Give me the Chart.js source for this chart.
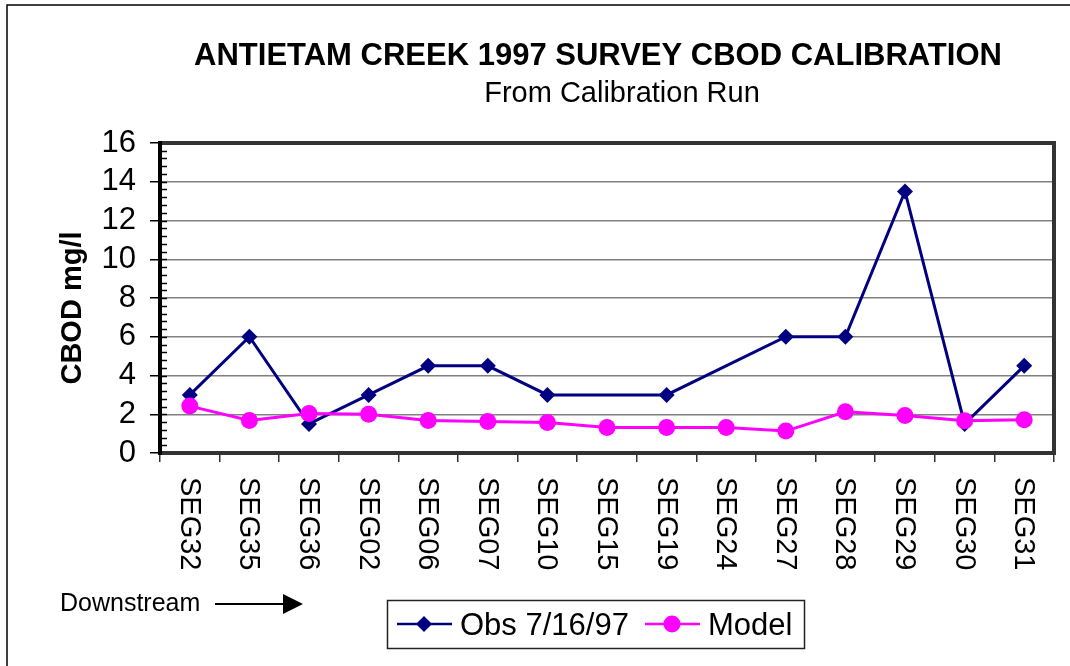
<!DOCTYPE html>
<html>
<head>
<meta charset="utf-8">
<script src="https://cdn.jsdelivr.net/npm/chart.js@4/dist/chart.umd.min.js"></script>
<style>
    body { margin: 0; background: #fff; }
    canvas { display: block; }
</style>
</head>
<body>
<canvas id="chart" width="1070" height="666"></canvas>
<script>
const segments = ['SEG32', 'SEG35', 'SEG36', 'SEG02', 'SEG06', 'SEG07', 'SEG10', 'SEG15',
    'SEG19', 'SEG24', 'SEG27', 'SEG28', 'SEG29', 'SEG30', 'SEG31'];

// observed values, null where there was no sample
const obsValues = [3, 6, 1.5, 3, 4.5, 4.5, 3, null, 3, null, 6, 6, 13.5, 1.5, 4.5];
const modelValues = [2.42, 1.68, 2.04, 2.0, 1.68, 1.62, 1.58, 1.32, 1.32, 1.32, 1.13, 2.13, 1.93, 1.66, 1.72];

const yTicks = [0, 2, 4, 6, 8, 10, 12, 14, 16];

const titleText = 'ANTIETAM CREEK 1997 SURVEY CBOD CALIBRATION';
const subtitleText = 'From Calibration Run';
const yTitleText = 'CBOD mg/l';
const downstreamText = 'Downstream';

const FONT = '"Liberation Sans", Arial, sans-serif';

const NAVY = '#000080';
const MAGENTA = '#FF00FF';

function drawMarker(ctx, style, x, y, r, color) {
    ctx.save();
    ctx.fillStyle = color;
    ctx.beginPath();
    if (style == 'rectRot') {
        ctx.moveTo(x, y - r);
        ctx.lineTo(x + r, y);
        ctx.lineTo(x, y + r);
        ctx.lineTo(x - r, y);
        ctx.closePath();
    } else {
        ctx.arc(x, y, r, 0, Math.PI * 2);
    }
    ctx.fill();
    ctx.restore();
}

// plot frame and little minor ticks on the y axis
const framePlugin = {
    id: 'frame',
    beforeDatasetsDraw(chart) {
        const ctx = chart.ctx;
        const a = chart.chartArea;
        const y = chart.scales.y;
        ctx.save();
        ctx.strokeStyle = '#000';
        ctx.lineWidth = 1.5;
        for (let i = 0; i <= 40; i++) {
            let py = Math.round(y.getPixelForValue(i * 0.4)) + 0.5;
            ctx.beginPath();
            ctx.moveTo(a.left, py);
            ctx.lineTo(a.left + 7, py);
            ctx.stroke();
        }
        ctx.lineWidth = 4;
        ctx.strokeStyle = '#333';
        ctx.beginPath();
        ctx.moveTo(a.left, a.top);
        ctx.lineTo(a.right, a.top);
        ctx.lineTo(a.right, a.bottom);
        ctx.lineTo(a.left, a.bottom);
        ctx.stroke();
        ctx.strokeStyle = '#000';
        ctx.beginPath();
        ctx.moveTo(a.left, a.top - 2);
        ctx.lineTo(a.left, a.bottom + 2);
        ctx.stroke();
        ctx.restore();
    }
};

// texts, rotated category labels and the legend box
const decorPlugin = {
    id: 'decor',
    afterDraw(chart) {
        const ctx = chart.ctx;
        const x = chart.scales.x;
        ctx.save();

        // outer chart border (only top / left are inside the picture)
        ctx.strokeStyle = '#000';
        ctx.lineWidth = 1.5;
        ctx.strokeRect(7, 5, 1100, 700);

        ctx.fillStyle = '#000';
        ctx.textBaseline = 'middle';
        ctx.textAlign = 'center';
        ctx.font = 'bold 31px ' + FONT;
        ctx.fillText(titleText, 598, 56);
        ctx.font = '29px ' + FONT;
        ctx.fillText(subtitleText, 622, 94);

        // y axis title
        ctx.save();
        ctx.translate(73, 308);
        ctx.rotate(-Math.PI / 2);
        ctx.font = 'bold 29px ' + FONT;
        ctx.fillText(yTitleText, 0, 0);
        ctx.restore();

        // category labels, reading top to bottom
        ctx.font = '29px ' + FONT;
        ctx.textAlign = 'left';
        segments.forEach((seg, i) => {
            ctx.save();
            ctx.translate(x.getPixelForValue(i) - 1, 477);
            ctx.rotate(Math.PI / 2);
            ctx.fillText(seg, 0, 0);
            ctx.restore();
        });

        // downstream arrow
        ctx.font = '25px ' + FONT;
        ctx.fillText(downstreamText, 60, 604);
        ctx.lineWidth = 2;
        ctx.beginPath();
        ctx.moveTo(215, 604);
        ctx.lineTo(286, 604);
        ctx.stroke();
        ctx.beginPath();
        ctx.moveTo(283, 594);
        ctx.lineTo(303, 604);
        ctx.lineTo(283, 614);
        ctx.closePath();
        ctx.fill();

        // legend
        ctx.lineWidth = 1.5;
        ctx.strokeStyle = '#222';
        ctx.strokeRect(387.5, 600.5, 417, 48);
        ctx.font = '31px ' + FONT;
        const items = [
            { ds: chart.data.datasets[0], x0: 397 },
            { ds: chart.data.datasets[1], x0: 645 },
        ];
        items.forEach((it) => {
            ctx.strokeStyle = it.ds.borderColor;
            ctx.lineWidth = 2.5;
            ctx.beginPath();
            ctx.moveTo(it.x0, 624);
            ctx.lineTo(it.x0 + 55, 624);
            ctx.stroke();
            drawMarker(ctx, it.ds.pointStyle, it.x0 + 27, 624, it.ds.pointRadius, it.ds.pointBackgroundColor);
            ctx.fillStyle = '#000';
            ctx.fillText(it.ds.label, it.x0 + 63, 626);
        });

        ctx.restore();
    }
};

var myChart = new Chart(
    document.getElementById('chart'),
    {
        type: 'line',
        data: {
            labels: segments,
            datasets: [{
                label: 'Obs 7/16/97',
                data: obsValues,
                borderColor: NAVY,
                backgroundColor: NAVY,
                pointBackgroundColor: NAVY,
                pointBorderColor: NAVY,
                pointStyle: 'rectRot',
                pointRadius: 8,
                pointBorderWidth: 0,
                borderWidth: 3,
                spanGaps: true,
                tension: 0,
                order: 1,
            },
            {
                label: 'Model',
                data: modelValues,
                borderColor: MAGENTA,
                backgroundColor: MAGENTA,
                pointBackgroundColor: MAGENTA,
                pointBorderColor: MAGENTA,
                pointStyle: 'circle',
                pointRadius: 8.5,
                pointBorderWidth: 0,
                borderWidth: 3,
                tension: 0,
                order: 0,
            }]
        },
        options: {
            responsive: false,
            animation: false,
            devicePixelRatio: 1,
            layout: {
                padding: { left: 100, top: 143, right: 16, bottom: 193 }
            },
            plugins: {
                legend: { display: false },
                title: { display: false },
                tooltip: { enabled: false },
            },
            scales: {
                x: {
                    offset: true,
                    afterFit: (scale) => { scale.height = 20; },
                    border: { display: false },
                    grid: {
                        offset: true,
                        drawOnChartArea: false,
                        drawTicks: true,
                        tickLength: 9,
                        tickColor: '#333',
                        lineWidth: 1.5,
                    },
                    ticks: { display: false, autoSkip: false },
                },
                y: {
                    min: 0,
                    max: 16,
                    afterFit: (scale) => { scale.width = 60; },
                    afterBuildTicks: (scale) => {
                        scale.ticks = yTicks.map((v) => ({ value: v }));
                    },
                    border: { display: false },
                    grid: {
                        color: '#808080',
                        lineWidth: 1.5,
                        tickLength: 10,
                        tickColor: '#000',
                    },
                    ticks: {
                        color: '#000',
                        padding: 14,
                        autoSkip: false,
                        font: { family: FONT, size: 31 },
                    },
                },
            },
        },
        plugins: [framePlugin, decorPlugin],
    }
);
</script>
</body>
</html>
